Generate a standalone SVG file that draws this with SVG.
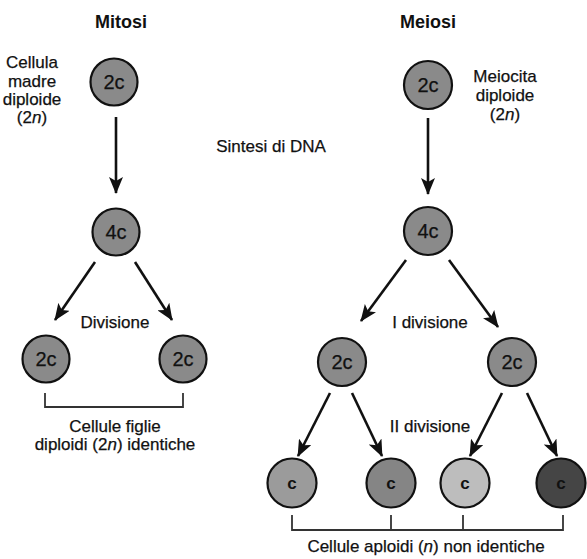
<svg xmlns="http://www.w3.org/2000/svg" width="587" height="559" viewBox="0 0 587 559">
  <defs>
    <marker id="head" viewBox="0 0 17 14" refX="16" refY="7" markerWidth="17" markerHeight="14" markerUnits="userSpaceOnUse" orient="auto">
      <path d="M0,0 L17,7 L0,14 L4,7 Z" fill="#111"/>
    </marker>
    <style>
      text { font-family: "Liberation Sans", Arial, sans-serif; fill: #111; stroke: #111; stroke-width: 0.25; text-anchor: middle; }
      .title { font-size: 18px; font-weight: bold; stroke-width: 0; }
      .lbl { font-size: 17px; }
      .cell { stroke: #111; stroke-width: 2.2; }
      .mid { fill: #8a8a8a; }
      .ctext { font-size: 20px; }
      .htext { font-size: 17px; font-weight: bold; stroke-width: 0; }
      .arrow { stroke: #111; stroke-width: 2.6; fill: none; marker-end: url(#head); }
      .bracket { stroke: #333; stroke-width: 1.8; fill: none; }
    </style>
  </defs>
  <rect width="587" height="559" fill="#ffffff"/>

  <!-- headings and side notes -->
  <text class="title" x="121" y="28">Mitosi</text>
  <text class="title" x="428" y="28">Meiosi</text>
  <g id="note-madre">
    <text class="lbl" x="32" y="68">Cellula</text>
    <text class="lbl" x="32" y="87">madre</text>
    <text class="lbl" x="32" y="105">diploide</text>
    <text class="lbl" x="32" y="123">(2<tspan font-style="italic">n</tspan>)</text>
  </g>
  <g id="note-meiocita">
    <text class="lbl" x="505" y="82">Meiocita</text>
    <text class="lbl" x="505" y="101">diploide</text>
    <text class="lbl" x="505" y="120">(2<tspan font-style="italic">n</tspan>)</text>
  </g>
  <text class="lbl" x="271" y="152">Sintesi di DNA</text>
  <text class="lbl" x="115" y="328">Divisione</text>
  <text class="lbl" x="430" y="328">I divisione</text>
  <text class="lbl" x="430" y="432">II divisione</text>

  <!-- connectors -->
  <g id="connectors">
    <line class="arrow" x1="116" y1="117" x2="116" y2="193"/>
    <line class="arrow" x1="95" y1="262" x2="55" y2="320"/>
    <line class="arrow" x1="135" y1="262" x2="172" y2="320"/>
    <line class="arrow" x1="428" y1="118" x2="428" y2="194"/>
    <line class="arrow" x1="406" y1="260" x2="361" y2="321"/>
    <line class="arrow" x1="449" y1="260" x2="498" y2="327"/>
    <line class="arrow" x1="330" y1="393" x2="298" y2="456"/>
    <line class="arrow" x1="352" y1="393" x2="382" y2="456"/>
    <line class="arrow" x1="502" y1="393" x2="470" y2="456"/>
    <line class="arrow" x1="527" y1="393" x2="557" y2="456"/>
    <!-- brackets grouping the daughter cells -->
    <path class="bracket" d="M45,393 V407 H183 V393"/>
    <path class="bracket" d="M292,515 V530 H563 V515 M391,515 V530 M463,515 V530"/>
  </g>

  <!-- mitosis cells -->
  <g id="mit-2c"><circle class="cell mid" cx="114" cy="82" r="23.5"/><text class="ctext" x="114" y="89">2c</text></g>
  <g id="mit-4c"><circle class="cell mid" cx="116" cy="232" r="23.5"/><text class="ctext" x="116" y="239">4c</text></g>
  <g id="mit-d1"><circle class="cell mid" cx="46" cy="359" r="23.5"/><text class="ctext" x="46" y="366">2c</text></g>
  <g id="mit-d2"><circle class="cell mid" cx="183" cy="359" r="23.5"/><text class="ctext" x="183" y="366">2c</text></g>

  <!-- meiosis cells -->
  <g id="mei-2c"><circle class="cell mid" cx="428" cy="85" r="24"/><text class="ctext" x="428" y="92">2c</text></g>
  <g id="mei-4c"><circle class="cell mid" cx="428" cy="231" r="24"/><text class="ctext" x="428" y="238">4c</text></g>
  <g id="mei-a"><circle class="cell mid" cx="342" cy="362" r="24"/><text class="ctext" x="342" y="369">2c</text></g>
  <g id="mei-b"><circle class="cell mid" cx="512" cy="362" r="24"/><text class="ctext" x="512" y="369">2c</text></g>
  <g id="mei-c1"><circle class="cell" fill="#9b9b9b" cx="292" cy="483" r="24.5"/><text class="htext" x="292" y="489">c</text></g>
  <g id="mei-c2"><circle class="cell" fill="#858585" cx="391" cy="483" r="24.5"/><text class="htext" x="391" y="489">c</text></g>
  <g id="mei-c3"><circle class="cell" fill="#bdbdbd" cx="465" cy="483" r="24.5"/><text class="htext" x="465" y="489">c</text></g>
  <g id="mei-c4"><circle class="cell" fill="#454545" cx="561" cy="483" r="24.5"/><text class="htext" x="561" y="489">c</text></g>

  <!-- captions -->
  <text class="lbl" x="115" y="432">Cellule figlie</text>
  <text class="lbl" x="115" y="450">diploidi (2<tspan font-style="italic">n</tspan>) identiche</text>
  <text class="lbl" x="426" y="552">Cellule aploidi (<tspan font-style="italic">n</tspan>) non identiche</text>
</svg>
